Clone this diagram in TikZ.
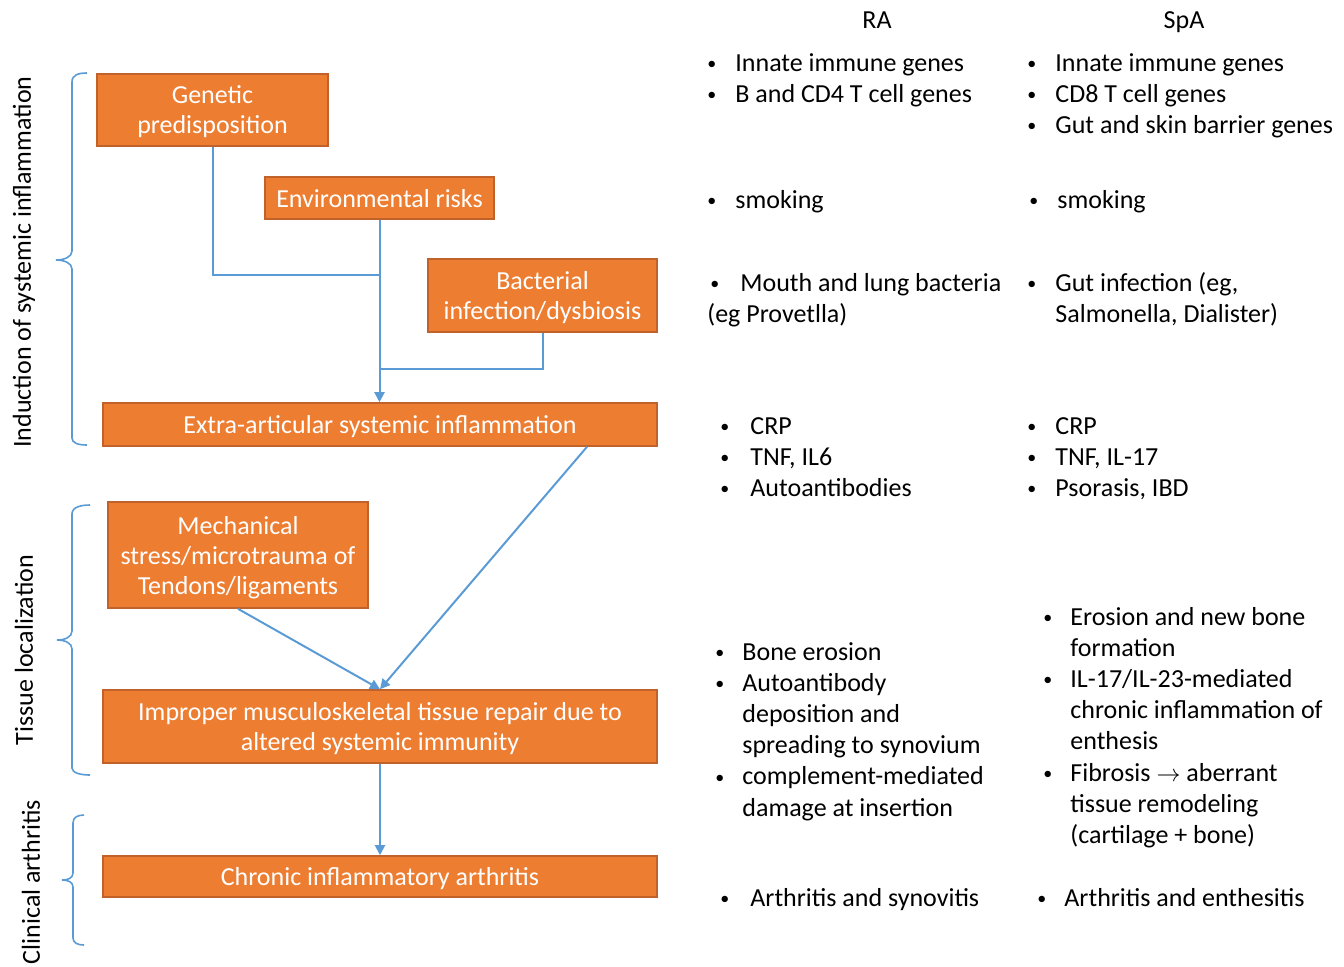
\documentclass[tikz,border=0pt]{standalone}
\usepackage{fontspec}
\setmainfont{Carlito}
\usetikzlibrary{arrows.meta}

\definecolor{boxfill}{HTML}{ED7D31}
\definecolor{boxline}{HTML}{C0622A}
\definecolor{linkblue}{HTML}{5B9BD5}
\newcommand{\dotmark}[1][14pt]{\makebox[#1][l]{\raisebox{0.8pt}{\fontsize{9}{9}\selectfont\textbullet}}}

\begin{document}
\begin{tikzpicture}[x=0.5pt,y=-0.5pt,
    font=\fontsize{13}{15.6}\selectfont,
    >={Triangle[length=5pt,width=5pt]},
    stagebox/.style={draw=boxline,fill=boxfill,text=white,align=center,text depth=0pt,
        inner sep=0pt,line width=0.8pt,font=\fontsize{13}{15}\selectfont},
    link/.style={linkblue,line width=1pt},
    bracepen/.style={linkblue,line width=0.8pt},
    listtxt/.style={anchor=base west,inner sep=0pt,align=left}]
        \useasboundingbox (0,0) rectangle (1344,966);

        % Draw stage boxes
        \node[stagebox,minimum width=115.5pt,minimum height=36pt] (genetic) at (212.5,110) {Genetic\\predisposition};
        \node[stagebox,minimum width=114.5pt,minimum height=21pt] (envrisk) at (379.5,198) {Environmental risks};
        \node[stagebox,minimum width=114.5pt,minimum height=36.5pt] (bacteria) at (542.5,295.5) {Bacterial\\infection/dysbiosis};
        \node[stagebox,minimum width=277pt,minimum height=21.5pt] (extraart) at (380,424.5) {Extra-articular systemic inflammation};
        \node[stagebox,minimum width=130pt,minimum height=53pt] (mechstress) at (238,555) {Mechanical\\stress/microtrauma of\\Tendons/ligaments};
        \node[stagebox,minimum width=277pt,minimum height=36.5pt] (repair) at (380,726.5) {Improper musculoskeletal tissue repair due to\\altered systemic immunity};
        \node[stagebox,minimum width=277pt,minimum height=20.5pt] (chronic) at (380,876.5) {Chronic inflammatory arthritis};

        % Draw connectors
        \coordinate (joinA) at (380,275);
        \coordinate (joinB) at (380,369);
        \draw[link] (genetic.south) |- (joinA);
        \draw[link] (bacteria.south) |- (joinB);
        \draw[link][->] (envrisk.south) -- (envrisk.south |- extraart.north);
        \draw[link][->] ([xshift=103.5pt]extraart.south) -- (repair.north);
        \draw[link][->] (mechstress.south) -- (repair.north);
        \draw[link][->] (repair.south) -- (chronic.north);

        % Draw braces and phase labels
        \draw[bracepen] (87,73) .. controls (78,73) and (72,75) .. (72,82) -- (72,251)
            .. controls (72,257) and (64,260) .. (56,260) .. controls (64,260) and (72,263) .. (72,269)
            -- (72,438) .. controls (72,443) and (78,445) .. (87,445);
        \draw[bracepen] (90,505) .. controls (81,505) and (72,507) .. (72,514) -- (72,631)
            .. controls (72,637) and (65,640) .. (57,640) .. controls (65,640) and (72,643) .. (72,649)
            -- (72,768) .. controls (72,773) and (81,775) .. (90,775);
        \draw[bracepen] (84,815) .. controls (78,815) and (73,817) .. (73,823) -- (73,873)
            .. controls (73,878) and (68,880) .. (62,880) .. controls (68,880) and (73,882) .. (73,887)
            -- (73,938) .. controls (73,943) and (78,945) .. (84,945);
        \node[rotate=90] (induction) at (24,262) {Induction of systemic inflammation};
        \node[rotate=90] (tissueloc) at (24,650) {Tissue localization};
        \node[rotate=90] (clinical) at (31,882) {Clinical arthritis};

        % Column headers
        \node[anchor=base] (raHead) at (877,28) {RA};
        \node[anchor=base] (spaHead) at (1184,28) {SpA};

        % RA column
        \node[listtxt] (raGenes) at (707,71) {\begin{tabular}[t]{@{}l@{}}\dotmark Innate immune genes\\\dotmark B and CD4 T cell genes\end{tabular}};
        \node[listtxt] (raSmoke) at (707,208) {\dotmark smoking};
        \node[listtxt] (raBact) at (707,291) {\begin{tabular}[t]{@{}l@{}}\hspace*{1.5pt}\dotmark[15pt]Mouth and lung bacteria\\(eg Provetlla)\end{tabular}};
        \node[listtxt] (raMarkers) at (720,434) {\begin{tabular}[t]{@{}l@{}}\dotmark[15pt]CRP\\\dotmark[15pt]TNF, IL6\\\dotmark[15pt]Autoantibodies\end{tabular}};
        \node[listtxt] (raDamage) at (715,660) {\begin{tabular}[t]{@{}l@{}}\dotmark[13.5pt]Bone erosion\\\dotmark[13.5pt]Autoantibody\\\hspace*{13.5pt}deposition and\\\hspace*{13.5pt}spreading to synovium\\\dotmark[13.5pt]complement-mediated\\\hspace*{13.5pt}damage at insertion\end{tabular}};
        \node[listtxt] (raOutcome) at (720,906) {\dotmark[15pt]Arthritis and synovitis};

        % SpA column
        \node[listtxt] (spaGenes) at (1027,71) {\begin{tabular}[t]{@{}l@{}}\dotmark Innate immune genes\\\dotmark CD8 T cell genes\\\dotmark Gut and skin barrier genes\end{tabular}};
        \node[listtxt] (spaSmoke) at (1029,208) {\dotmark smoking};
        \node[listtxt] (spaBact) at (1027,291) {\begin{tabular}[t]{@{}l@{}}\dotmark Gut infection (eg,\\\hspace*{14pt}Salmonella, Dialister)\end{tabular}};
        \node[listtxt] (spaMarkers) at (1027,434) {\begin{tabular}[t]{@{}l@{}}\dotmark CRP\\\dotmark TNF, IL-17\\\dotmark Psorasis, IBD\end{tabular}};
        \node[listtxt] (spaDamage) at (1043,625) {\begin{tabular}[t]{@{}l@{}}\dotmark[13.5pt]Erosion and new bone\\\hspace*{13.5pt}formation\\\dotmark[13.5pt]IL-17/IL-23-mediated\\\hspace*{13.5pt}chronic inflammation of\\\hspace*{13.5pt}enthesis\\\dotmark[13.5pt]Fibrosis $\rightarrow$ aberrant\\\hspace*{13.5pt}tissue remodeling\\\hspace*{13.5pt}(cartilage + bone)\end{tabular}};
        \node[listtxt] (spaOutcome) at (1037,906) {\dotmark[13.5pt]Arthritis and enthesitis};
\end{tikzpicture}
\end{document}
